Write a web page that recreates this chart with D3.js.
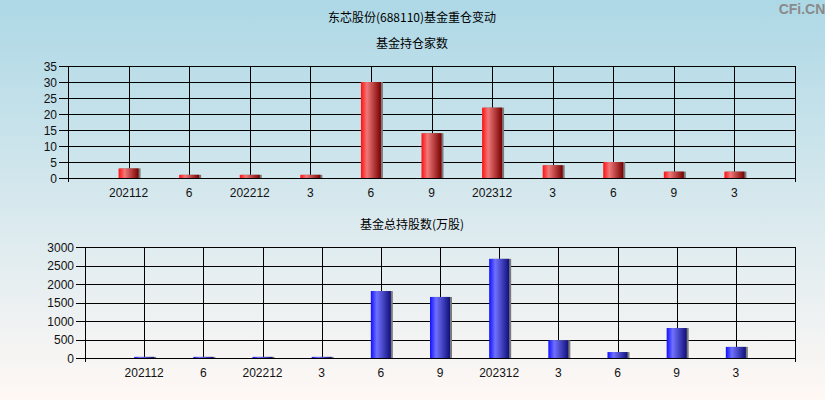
<!DOCTYPE html>
<html><head><meta charset="utf-8">
<script src="https://cdn.jsdelivr.net/npm/d3@7"></script>
<style>html,body{margin:0;padding:0;}svg{display:block;}</style>
</head><body>
<svg id="c" width="825" height="400"></svg>
<script>
const categories = ["202112","6","202212","3","6","9","202312","3","6","9","3"];
const fundCount = [3,1,1,1,30,14,22,4,5,2,2];
const fundShares = [30,30,30,30,1810,1650,2680,480,160,810,300];
const countTicks = [0,5,10,15,20,25,30,35];
const shareTicks = [0,500,1000,1500,2000,2500,3000];
const mainTitle = "东芯股份(688110)基金重仓变动";
const title1 = "基金持仓家数";
const title2 = "基金总持股数(万股)";

const svg = d3.select("#c");
const defs = svg.append("defs");
const bg = defs.append("linearGradient").attr("id","bg").attr("x1",0).attr("y1",0).attr("x2",0).attr("y2",1);
bg.append("stop").attr("offset","0%").attr("stop-color","#add8e6");
bg.append("stop").attr("offset","100%").attr("stop-color","#fff8f5");
function barGrad(id, c0, c1, c2){
  const g = defs.append("linearGradient").attr("id",id).attr("x1",0).attr("y1",0).attr("x2",1).attr("y2",0);
  g.append("stop").attr("offset","0%").attr("stop-color",c0);
  g.append("stop").attr("offset","30%").attr("stop-color",c1);
  g.append("stop").attr("offset","100%").attr("stop-color",c2);
}
barGrad("red","#ff1010","#f07878","#780000");
barGrad("blue","#1010ff","#7070ff","#10107a");

svg.append("rect").attr("width",825).attr("height",400).attr("fill","url(#bg)");

const cjk = "'Noto Sans CJK SC', sans-serif";
const num = "'Liberation Sans', Arial, sans-serif";
svg.append("text").attr("x",412).attr("y",22).attr("text-anchor","middle")
  .attr("font-family",cjk).attr("font-size",12).attr("fill","#000").text(mainTitle);
svg.append("text").attr("x",802).attr("y",14).attr("text-anchor","middle")
  .attr("font-family",num).attr("font-weight","bold").attr("font-size",14).attr("fill","#8a8a8a").text("CFi.CN");

function panel(opt){
  const x = d3.scaleLinear().domain([0, categories.length+1]).range([opt.left, opt.right]);
  const y = d3.scaleLinear().domain([0, opt.ticks[opt.ticks.length-1]]).range([opt.bottom, opt.top]);
  const g = svg.append("g");
  g.append("text").attr("x",412).attr("y",opt.titleY).attr("text-anchor","middle")
    .attr("font-family",cjk).attr("font-size",12).attr("fill","#000").text(opt.title);
  // horizontal grid + y ticks
  g.selectAll("line.h").data(opt.ticks).join("line")
    .attr("x1",opt.left-9).attr("x2",opt.right)
    .attr("y1",d=>Math.round(y(d))+0.5).attr("y2",d=>Math.round(y(d))+0.5)
    .attr("stroke","#000").attr("stroke-width",1);
  g.selectAll("text.yl").data(opt.ticks).join("text")
    .attr("x",opt.left-11).attr("y",d=>y(d)+4.5).attr("text-anchor","end")
    .attr("font-family",num).attr("font-size",12).attr("fill","#111").text(d=>d);
  // vertical grid at categories
  g.selectAll("line.v").data(categories).join("line")
    .attr("x1",(d,i)=>Math.round(x(i+1))+0.5).attr("x2",(d,i)=>Math.round(x(i+1))+0.5)
    .attr("y1",opt.top).attr("y2",opt.bottom).attr("stroke","#000");
  // left & right borders with small ticks below
  [0, categories.length+1].forEach(v=>{
    g.append("line").attr("x1",Math.round(x(v))+0.5).attr("x2",Math.round(x(v))+0.5)
      .attr("y1",opt.top).attr("y2",opt.bottom+4).attr("stroke","#000");
  });
  // bars
  const bw = 20;
  g.selectAll("rect.s").data(opt.values).join("rect")
    .attr("x",(d,i)=>x(i+1)-bw/2+2).attr("y",d=>y(d)).attr("width",bw)
    .attr("height",d=>Math.max(1,opt.bottom-y(d))).attr("fill","#7a7a7a");
  g.selectAll("rect.b").data(opt.values).join("rect")
    .attr("x",(d,i)=>x(i+1)-bw/2).attr("y",d=>y(d)).attr("width",bw)
    .attr("height",d=>Math.max(1,opt.bottom-y(d))).attr("fill",opt.fill);
  // x labels
  g.selectAll("text.xl").data(categories).join("text")
    .attr("x",(d,i)=>x(i+1)).attr("y",opt.bottom+19).attr("text-anchor","middle")
    .attr("font-family",num).attr("font-size",12).attr("fill","#111").text(d=>d);
}

panel({left:68, right:795, top:66, bottom:178, ticks:countTicks, values:fundCount,
  fill:"url(#red)", title:title1, titleY:48});
panel({left:85, right:795, top:247, bottom:358, ticks:shareTicks, values:fundShares,
  fill:"url(#blue)", title:title2, titleY:229});
</script>
</body></html>
